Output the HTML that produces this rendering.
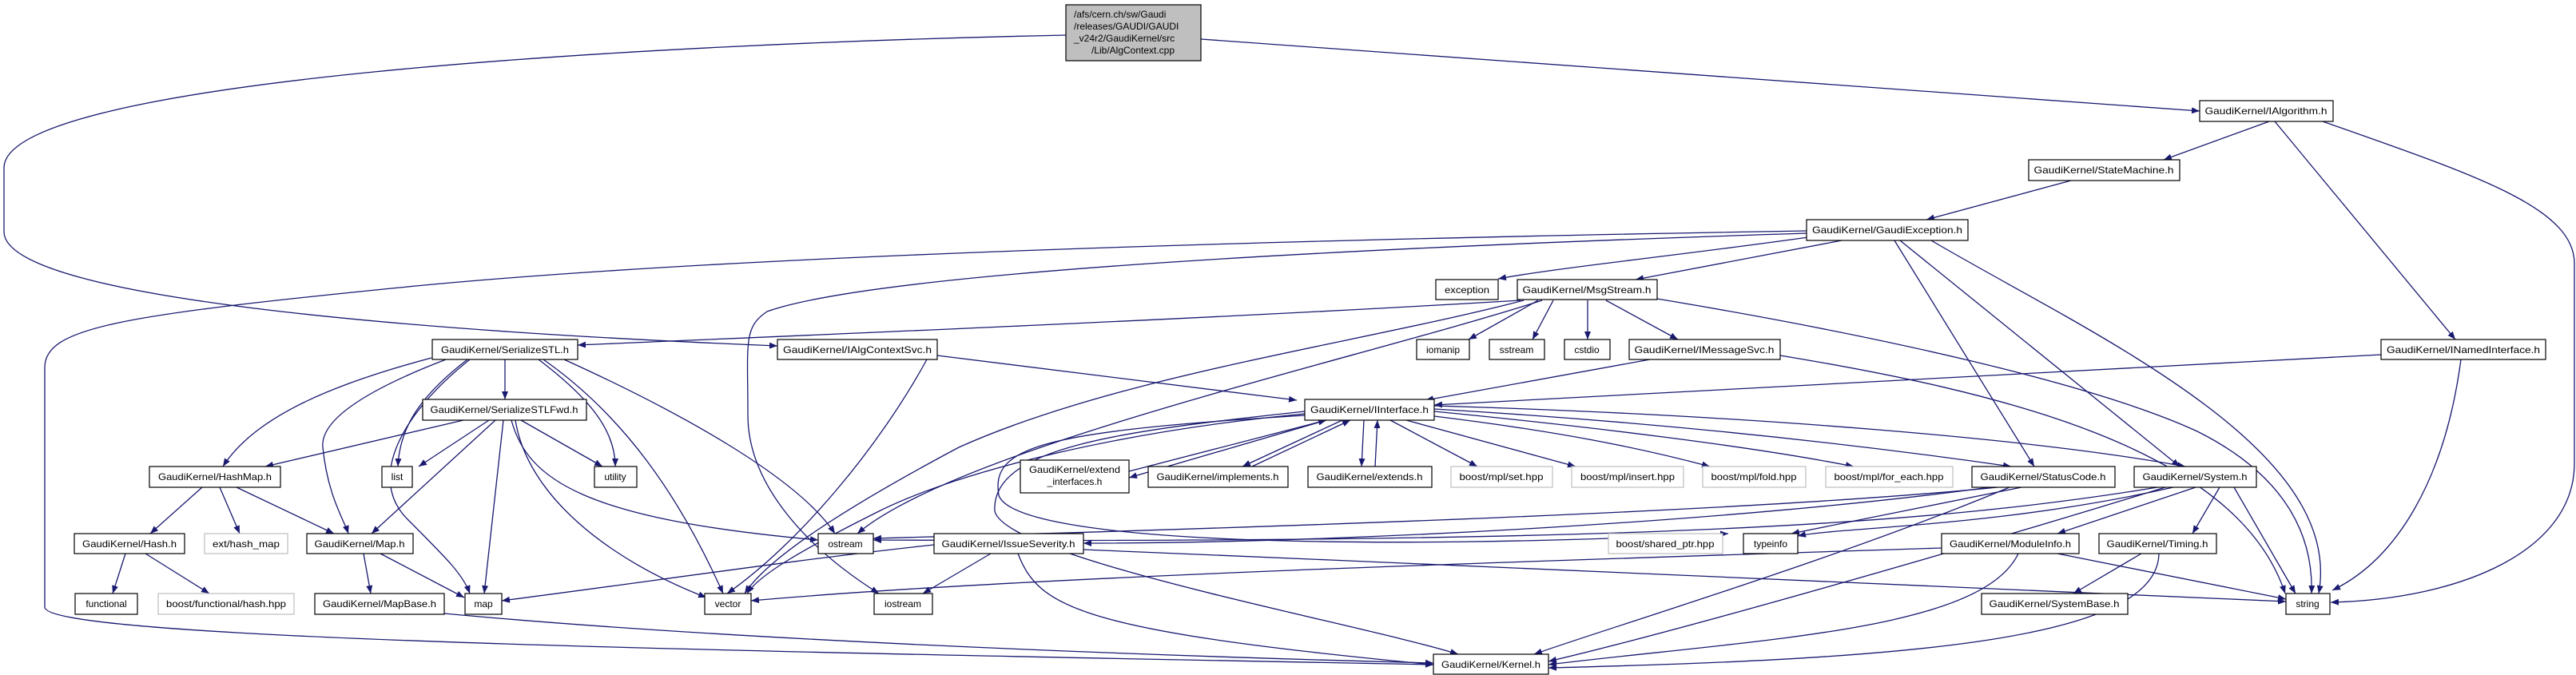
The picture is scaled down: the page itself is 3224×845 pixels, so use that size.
<!DOCTYPE html>
<html><head><meta charset="utf-8"><style>
html,body{margin:0;padding:0;background:#fff;}
svg{display:block;}
text{font-family:"Liberation Sans",sans-serif;font-size:12px;fill:#000;}
.e{fill:none;stroke:#191970;stroke-width:1.3;marker-end:url(#a);}
.n{fill:#fff;stroke:#000;stroke-width:1.2;}
.g{fill:#fff;stroke:#bfbfbf;stroke-width:1.2;}
</style></head><body>
<svg width="3224" height="845" viewBox="0 0 3224 845" xmlns="http://www.w3.org/2000/svg">
<defs><marker id="a" markerWidth="11" markerHeight="8" refX="10" refY="4" orient="auto" markerUnits="userSpaceOnUse"><path d="M0,0 L10,4 L0,8 z" fill="#191970"/></marker></defs>

<!-- edges -->
<path class="e" d="M1503,49 L2753,139"/>
<path class="e" d="M1334,44 C800,55 5,100 5,210 L5,290 C5,380 600,418 973,433"/>
<path class="e" d="M2840,152 L2708,200"/>
<path class="e" d="M2847,152 L3073,425"/>
<path class="e" d="M2907,152 C3100,220 3222,260 3222,330 L3222,580 C3222,690 3080,750 2917,754"/>
<path class="e" d="M2592,226 L2411,275"/>
<path class="e" d="M2263,297 C2100,320 1950,335 1875,349"/>
<path class="e" d="M2305,301 L2047,350"/>
<path class="e" d="M2261,289 C1600,300 900,320 500,360 C150,395 56,410 56,460 L56,760 C56,800 900,815 1794,832"/>
<path class="e" d="M2261,292 C1700,310 1100,340 960,390 C930,410 936,430 936,520 C936,600 1000,680 1100,743"/>
<path class="e" d="M2371,301 L2546,584"/>
<path class="e" d="M2378,301 L2728,584"/>
<path class="e" d="M2417,301 C2620,420 2935,560 2902,743"/>
<path class="e" d="M1907,376 C1700,430 1400,470 1200,560 C1050,640 960,700 932,743"/>
<path class="e" d="M1903,376 C1500,400 1000,420 723,432"/>
<path class="e" d="M1925,376 L1838,425"/>
<path class="e" d="M1944,376 L1918,425"/>
<path class="e" d="M1987,376 L1987,425"/>
<path class="e" d="M2010,376 L2100,425"/>
<path class="e" d="M2074,374 C2350,420 2620,480 2750,540 C2870,600 2895,680 2893,743"/>
<path class="e" d="M1930,376 C1700,450 1200,560 1073,668"/>
<path class="e" d="M1173,445 L1623,501"/>
<path class="e" d="M1160,450 C1100,560 1000,680 910,743"/>
<path class="e" d="M2065,450 L1784,501"/>
<path class="e" d="M2228,445 C2500,490 2800,560 2860,743"/>
<path class="e" d="M2980,444 L1795,507"/>
<path class="e" d="M3080,450 C3060,600 3000,700 2919,739"/>
<!-- Interface.h -->
<path class="e" d="M1633,515 C1400,540 1240,560 1245,640 C1260,700 1700,780 1825,819"/>
<path class="e" d="M1633,518 C1400,540 1200,590 1100,640 C1000,690 950,720 935,743"/>
<path class="e" d="M1633,520 C1300,540 1240,560 1250,620 C1270,680 1700,690 2163,668"/>
<path class="e" d="M1660,526 L1413,598"/>
<path class="e" d="M1413,590 L1660,526"/>
<path class="e" d="M1680,526 L1555,584"/>
<path class="e" d="M1567,584 L1690,526"/>
<path class="e" d="M1707,526 L1704,584"/>
<path class="e" d="M1721,584 L1724,526"/>
<path class="e" d="M1740,526 L1849,584"/>
<path class="e" d="M1760,526 L1972,584"/>
<path class="e" d="M1795,521 C1950,540 2050,560 2140,584"/>
<path class="e" d="M1795,515 C2000,535 2200,560 2320,584"/>
<path class="e" d="M1795,512 C2100,530 2350,560 2517,584"/>
<path class="e" d="M1795,508 C2200,520 2550,550 2735,584"/>
<!-- StatusCode / System -->
<path class="e" d="M2500,610 C2200,640 1600,660 1093,674"/>
<path class="e" d="M2490,610 C2200,650 1700,680 1356,680"/>
<path class="e" d="M2515,610 C2300,700 2000,790 1920,819"/>
<path class="e" d="M2530,610 L2242,668"/>
<path class="e" d="M2720,610 C2500,660 2300,660 2250,671"/>
<path class="e" d="M2748,610 L2575,668"/>
<path class="e" d="M2778,610 L2744,668"/>
<path class="e" d="M2796,610 L2873,743"/>
<path class="e" d="M2710,610 C2450,690 2100,790 1938,828"/>
<path class="e" d="M2700,610 C2400,660 2000,680 1093,676"/>
<!-- IssueSeverity, ModuleInfo, Timing -->
<path class="e" d="M1169,682 C1000,700 800,730 628,752"/>
<path class="e" d="M1240,693 L1155,743"/>
<path class="e" d="M1274,693 C1300,760 1350,790 1794,832"/>
<path class="e" d="M1356,688 C1900,710 2500,740 2861,753"/>
<path class="e" d="M2430,686 C2000,700 1300,720 940,752"/>
<path class="e" d="M2526,693 C2480,790 2200,800 1938,832"/>
<path class="e" d="M2575,693 L2861,750"/>
<path class="e" d="M2680,693 L2595,743"/>
<path class="e" d="M2702,693 C2700,800 2400,825 1938,836"/>
<!-- SerializeSTL -->
<path class="e" d="M540,448 C420,480 320,520 279,584"/>
<path class="e" d="M558,450 C480,480 400,520 404,560 C410,620 430,650 436,668"/>
<path class="e" d="M585,450 C520,500 500,540 498,584"/>
<path class="e" d="M632,450 L632,500"/>
<path class="e" d="M588,450 C500,520 460,600 510,650 C560,700 580,720 588,743"/>
<path class="e" d="M674,450 C740,500 770,540 770,584"/>
<path class="e" d="M680,450 C780,520 850,620 905,743"/>
<path class="e" d="M706,450 C860,520 1000,600 1045,668"/>
<!-- SerializeSTLFwd -->
<path class="e" d="M580,526 L332,584"/>
<path class="e" d="M612,526 L524,584"/>
<path class="e" d="M620,526 L465,668"/>
<path class="e" d="M630,526 L606,743"/>
<path class="e" d="M652,526 L754,584"/>
<path class="e" d="M640,526 C660,600 730,650 1024,676"/>
<path class="e" d="M645,526 C660,620 760,700 884,748"/>
<!-- HashMap etc -->
<path class="e" d="M253,610 L188,668"/>
<path class="e" d="M275,610 L300,668"/>
<path class="e" d="M296,610 L418,668"/>
<path class="e" d="M157,693 L141,743"/>
<path class="e" d="M182,693 L262,743"/>
<path class="e" d="M455,693 L464,743"/>
<path class="e" d="M476,693 L581,748"/>
<path class="e" d="M556,768 C900,800 1400,820 1794,830"/>

<!-- nodes -->
<rect x="1334" y="6" width="169" height="70" fill="#bfbfbf" stroke="#000" stroke-width="1.2"/>
<text x="1344" y="22">/afs/cern.ch/sw/Gaudi</text>
<text x="1344" y="37">/releases/GAUDI/GAUDI</text>
<text x="1344" y="52">_v24r2/GaudiKernel/src</text>
<text x="1418" y="67" text-anchor="middle">/Lib/AlgContext.cpp</text>

<g text-anchor="middle">
<rect class="n" x="2753" y="126" width="167" height="26"/><text x="2836" y="143" textLength="153" lengthAdjust="spacingAndGlyphs">GaudiKernel/IAlgorithm.h</text>
<rect class="n" x="2539" y="200" width="189" height="26"/><text x="2633" y="217" textLength="175" lengthAdjust="spacingAndGlyphs">GaudiKernel/StateMachine.h</text>
<rect class="n" x="2261" y="275" width="202" height="26"/><text x="2362" y="292" textLength="188" lengthAdjust="spacingAndGlyphs">GaudiKernel/GaudiException.h</text>
<rect class="n" x="1797" y="350" width="78" height="25"/><text x="1836" y="367" textLength="56" lengthAdjust="spacingAndGlyphs">exception</text>
<rect class="n" x="1899" y="350" width="175" height="25"/><text x="1986" y="367" textLength="161" lengthAdjust="spacingAndGlyphs">GaudiKernel/MsgStream.h</text>
<rect class="n" x="2980" y="425" width="206" height="25"/><text x="3083" y="442" textLength="192" lengthAdjust="spacingAndGlyphs">GaudiKernel/INamedInterface.h</text>
<rect class="n" x="541" y="425" width="182" height="25"/><text x="632" y="442" textLength="160" lengthAdjust="spacingAndGlyphs">GaudiKernel/SerializeSTL.h</text>
<rect class="n" x="973" y="425" width="200" height="25"/><text x="1073" y="442" textLength="186" lengthAdjust="spacingAndGlyphs">GaudiKernel/IAlgContextSvc.h</text>
<rect class="n" x="1773" y="425" width="66" height="25"/><text x="1806" y="442">iomanip</text>
<rect class="n" x="1864" y="425" width="69" height="25"/><text x="1898" y="442">sstream</text>
<rect class="n" x="1958" y="425" width="57" height="25"/><text x="1986" y="442">cstdio</text>
<rect class="n" x="2039" y="425" width="189" height="25"/><text x="2133" y="442" textLength="175" lengthAdjust="spacingAndGlyphs">GaudiKernel/IMessageSvc.h</text>
<rect class="n" x="1633" y="500" width="162" height="26"/><text x="1714" y="517" textLength="148" lengthAdjust="spacingAndGlyphs">GaudiKernel/IInterface.h</text>
<rect class="n" x="529" y="500" width="205" height="26"/><text x="631" y="517" textLength="185" lengthAdjust="spacingAndGlyphs">GaudiKernel/SerializeSTLFwd.h</text>
<rect class="n" x="1277" y="576" width="136" height="41"/><text x="1345" y="592" textLength="114" lengthAdjust="spacingAndGlyphs">GaudiKernel/extend</text><text x="1345" y="607">_interfaces.h</text>
<rect class="n" x="1437" y="584" width="175" height="26"/><text x="1524" y="601" textLength="153" lengthAdjust="spacingAndGlyphs">GaudiKernel/implements.h</text>
<rect class="n" x="1637" y="584" width="155" height="26"/><text x="1714" y="601" textLength="133" lengthAdjust="spacingAndGlyphs">GaudiKernel/extends.h</text>
<rect class="g" x="1816" y="584" width="127" height="26"/><text x="1879" y="601" textLength="105" lengthAdjust="spacingAndGlyphs">boost/mpl/set.hpp</text>
<rect class="g" x="1967" y="584" width="140" height="26"/><text x="2037" y="601" textLength="118" lengthAdjust="spacingAndGlyphs">boost/mpl/insert.hpp</text>
<rect class="g" x="2131" y="584" width="129" height="26"/><text x="2195" y="601" textLength="107" lengthAdjust="spacingAndGlyphs">boost/mpl/fold.hpp</text>
<rect class="g" x="2285" y="584" width="159" height="26"/><text x="2364" y="601" textLength="137" lengthAdjust="spacingAndGlyphs">boost/mpl/for_each.hpp</text>
<rect class="n" x="2468" y="584" width="179" height="26"/><text x="2557" y="601" textLength="157" lengthAdjust="spacingAndGlyphs">GaudiKernel/StatusCode.h</text>
<rect class="n" x="2671" y="584" width="153" height="26"/><text x="2747" y="601" textLength="131" lengthAdjust="spacingAndGlyphs">GaudiKernel/System.h</text>
<rect class="n" x="187" y="584" width="164" height="26"/><text x="269" y="601" textLength="142" lengthAdjust="spacingAndGlyphs">GaudiKernel/HashMap.h</text>
<rect class="n" x="478" y="584" width="38" height="26"/><text x="497" y="601">list</text>
<rect class="n" x="744" y="584" width="53" height="26"/><text x="770" y="601">utility</text>
<rect class="n" x="93" y="668" width="138" height="25"/><text x="162" y="685" textLength="118" lengthAdjust="spacingAndGlyphs">GaudiKernel/Hash.h</text>
<rect class="g" x="256" y="668" width="104" height="25"/><text x="308" y="685" textLength="84" lengthAdjust="spacingAndGlyphs">ext/hash_map</text>
<rect class="n" x="384" y="668" width="133" height="25"/><text x="450" y="685" textLength="113" lengthAdjust="spacingAndGlyphs">GaudiKernel/Map.h</text>
<rect class="n" x="1024" y="668" width="69" height="25"/><text x="1058" y="685">ostream</text>
<rect class="n" x="1169" y="668" width="187" height="25"/><text x="1262" y="685" textLength="167" lengthAdjust="spacingAndGlyphs">GaudiKernel/IssueSeverity.h</text>
<rect class="g" x="2013" y="668" width="143" height="25"/><text x="2084" y="685" textLength="123" lengthAdjust="spacingAndGlyphs">boost/shared_ptr.hpp</text>
<rect class="n" x="2182" y="668" width="68" height="25"/><text x="2216" y="685">typeinfo</text>
<rect class="n" x="2430" y="668" width="172" height="25"/><text x="2516" y="685" textLength="152" lengthAdjust="spacingAndGlyphs">GaudiKernel/ModuleInfo.h</text>
<rect class="n" x="2627" y="668" width="147" height="25"/><text x="2700" y="685" textLength="127" lengthAdjust="spacingAndGlyphs">GaudiKernel/Timing.h</text>
<rect class="n" x="94" y="743" width="78" height="26"/><text x="133" y="760">functional</text>
<rect class="g" x="198" y="743" width="170" height="26"/><text x="283" y="760" textLength="150" lengthAdjust="spacingAndGlyphs">boost/functional/hash.hpp</text>
<rect class="n" x="394" y="743" width="162" height="26"/><text x="475" y="760" textLength="142" lengthAdjust="spacingAndGlyphs">GaudiKernel/MapBase.h</text>
<rect class="n" x="582" y="743" width="46" height="26"/><text x="605" y="760">map</text>
<rect class="n" x="882" y="743" width="58" height="26"/><text x="911" y="760">vector</text>
<rect class="n" x="1094" y="743" width="73" height="26"/><text x="1130" y="760">iostream</text>
<rect class="n" x="2480" y="743" width="183" height="26"/><text x="2571" y="760" textLength="163" lengthAdjust="spacingAndGlyphs">GaudiKernel/SystemBase.h</text>
<rect class="n" x="2861" y="743" width="55" height="26"/><text x="2888" y="760">string</text>
<rect class="n" x="1794" y="819" width="144" height="25"/><text x="1866" y="836" textLength="124" lengthAdjust="spacingAndGlyphs">GaudiKernel/Kernel.h</text>
</g>
</svg>
</body></html>
